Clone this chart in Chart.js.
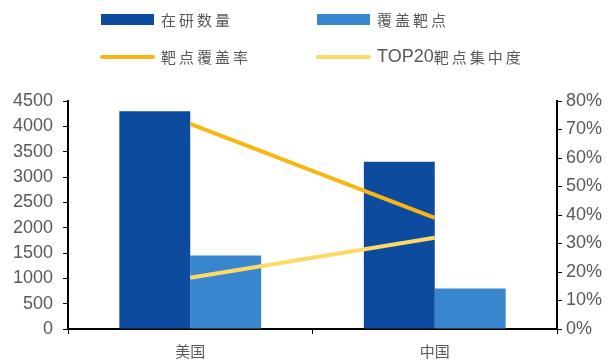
<!DOCTYPE html>
<html>
<head>
<meta charset="utf-8">
<script src="https://cdn.jsdelivr.net/npm/chart.js@4"></script>
<style>
  html, body { margin: 0; padding: 0; background: #fff; }
  #wrap { width: 613px; height: 364px; }
</style>
</head>
<body>
<div id="wrap"><canvas id="myChart" width="613" height="364"></canvas></div>
<script>
const categories = ['美国', '中国']
const inResearch = [4300, 3300]
const targetsCovered = [1450, 800]
const coverageRate = [72, 39]
const top20Concentration = [18, 32]

const leftMax = 4500
const leftStep = 500
const rightMax = 80
const rightStep = 10

const CJK = '"Noto Sans CJK SC", "Liberation Sans", sans-serif'
const NUM = '"Liberation Sans", Arial, sans-serif'
const textColor = '#595959'

// 2x2 legend drawn by hand so the columns line up
const gridLegend = {
    id: 'gridLegend',
    afterDraw(chart) {
        const ctx = chart.ctx
        const slots = [
            { x: 101, y: 20 }, { x: 317, y: 20 },
            { x: 101, y: 57 }, { x: 317, y: 57 }
        ]
        ctx.save()
        chart.data.datasets.forEach((ds, i) => {
            const s = slots[i]
            if (ds.type === 'bar') {
                ctx.fillStyle = ds.backgroundColor
                ctx.fillRect(s.x, s.y - 6, 53, 11)
            } else {
                ctx.strokeStyle = ds.borderColor
                ctx.lineWidth = 4
                ctx.lineCap = 'round'
                ctx.beginPath()
                ctx.moveTo(s.x + 1, s.y)
                ctx.lineTo(s.x + 52, s.y)
                ctx.stroke()
            }
            ctx.fillStyle = textColor
            ctx.textBaseline = 'middle'
            let tx = s.x + 60
            const m = ds.label.match(/^([A-Za-z0-9]*)(.*)$/)
            if (m[1]) {
                ctx.font = '18px ' + NUM
                ctx.letterSpacing = '0px'
                ctx.fillText(m[1], tx, s.y)
                tx += ctx.measureText(m[1]).width
            }
            ctx.font = '15px ' + CJK
            ctx.letterSpacing = '3px'
            ctx.fillText(m[2], tx, s.y)
        })
        ctx.restore()
    }
}

const data = {
    labels: categories,
    datasets: [
        {
            type: 'bar',
            label: '在研数量',
            data: inResearch,
            backgroundColor: '#0C4B9E',
            yAxisID: 'y',
            order: 2
        },
        {
            type: 'bar',
            label: '覆盖靶点',
            data: targetsCovered,
            backgroundColor: '#3886CE',
            yAxisID: 'y',
            order: 2
        },
        {
            type: 'line',
            label: '靶点覆盖率',
            data: coverageRate,
            borderColor: '#F9B511',
            borderWidth: 4,
            pointRadius: 0,
            yAxisID: 'y1',
            order: 1
        },
        {
            type: 'line',
            label: 'TOP20靶点集中度',
            data: top20Concentration,
            borderColor: '#FFD966',
            borderWidth: 4,
            pointRadius: 0,
            yAxisID: 'y1',
            order: 1
        }
    ]
}

const config = {
    type: 'bar',
    data: data,
    options: {
        responsive: false,
        animation: false,
        layout: { padding: { top: 101, right: 0, left: 0, bottom: 0 } },
        datasets: {
            bar: { barPercentage: 1, categoryPercentage: 0.58 }
        },
        plugins: {
            legend: { display: false },
            tooltip: { enabled: false }
        },
        scales: {
            x: {
                offset: true,
                grid: {
                    offset: true,
                    drawOnChartArea: false,
                    color: '#000',
                    tickLength: 5
                },
                border: { color: '#000', width: 2 },
                ticks: {
                    color: textColor,
                    padding: 8,
                    font: { family: CJK, size: 15 }
                },
                afterFit(scale) { scale.height = 35 }
            },
            y: {
                position: 'left',
                min: 0,
                max: leftMax,
                grid: { drawOnChartArea: false, color: '#000', tickLength: 5 },
                border: { color: '#000', width: 2 },
                ticks: {
                    stepSize: leftStep,
                    color: textColor,
                    padding: 10,
                    font: { family: NUM, size: 18 },
                    callback: (v) => String(v)
                },
                afterFit(scale) { scale.width = 68 }
            },
            y1: {
                position: 'right',
                min: 0,
                max: rightMax,
                grid: { drawOnChartArea: false, color: '#000', tickLength: 5 },
                border: { color: '#000', width: 2 },
                ticks: {
                    stepSize: rightStep,
                    color: textColor,
                    padding: 4,
                    font: { family: NUM, size: 18 },
                    callback: (v) => v + '%'
                },
                afterFit(scale) { scale.width = 56 }
            }
        }
    },
    plugins: [gridLegend]
}

const chart = new Chart(document.getElementById('myChart'), config)
</script>
</body>
</html>
